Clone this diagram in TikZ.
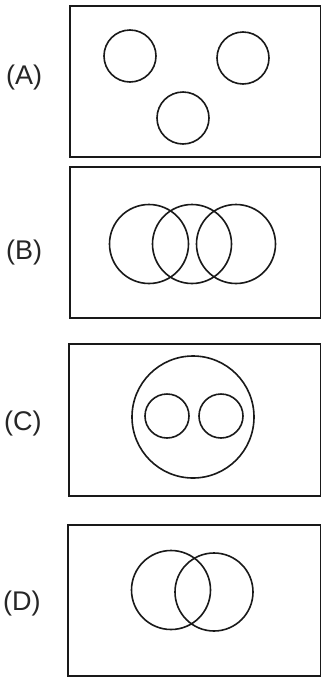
\documentclass[tikz,border=0pt]{standalone}
\usepackage{fontspec}
\setmainfont{Liberation Sans}
\begin{document}
\begin{tikzpicture}[x=1pt,y=-1pt,
  panel/.style={draw=black!90,line width=1.8pt},
  ring/.style={draw=black!90,line width=1.6pt},
  lab/.style={anchor=base west,inner sep=0pt,font=\fontsize{27}{30}\selectfont,text=black!85}]
\useasboundingbox (0,0) rectangle (322,678);
\fill[white] (0,0) rectangle (322,678);
% (A)
\node[lab] (la) at (6,84) {(A)};
\draw[panel] (70,6) rectangle (320.5,157);
\draw[ring] (130,56) circle (26);
\draw[ring] (243,58) circle (26);
\draw[ring] (183,118) circle (26);
% (B)
\node[lab] (lb) at (6,259) {(B)};
\draw[panel] (70,167) rectangle (320.5,318);
\draw[ring] (149,244) circle (39.5);
\draw[ring] (192,244) circle (39.5);
\draw[ring] (236,244) circle (39.5);
% (C)
\node[lab] (lc) at (4,430) {(C)};
\draw[panel] (69,344) rectangle (320.5,496);
\draw[ring] (193,417) circle (61);
\draw[ring] (167,416) circle (22);
\draw[ring] (221,416) circle (22);
% (D)
\node[lab] (ld) at (3,610) {(D)};
\draw[panel] (68,525) rectangle (320.5,676);
\draw[ring] (171,590) circle (39.5);
\draw[ring] (214,592) circle (39);
\end{tikzpicture}
\end{document}
